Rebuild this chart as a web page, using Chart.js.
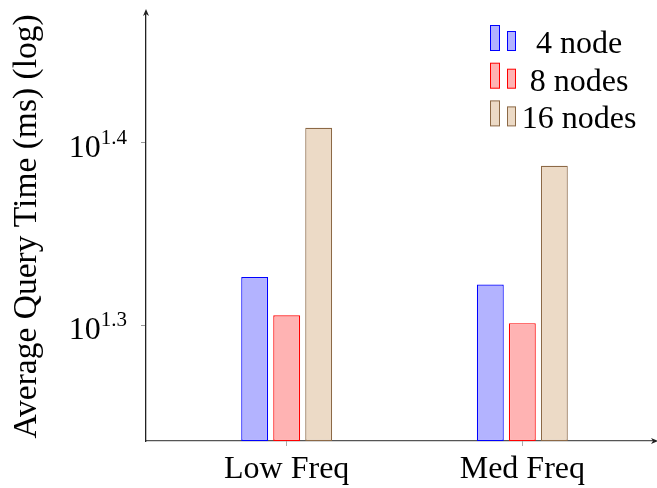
<!DOCTYPE html>
<html>
<head>
<meta charset="utf-8">
<script src="https://cdn.jsdelivr.net/npm/chart.js@4"></script>
<style>
  html, body { margin: 0; padding: 0; background: #fff; }
</style>
</head>
<body>
<canvas id="queryChart" width="657" height="488"></canvas>
<script>
// Chart data
var categories = ['Low Freq', 'Med Freq'];
var seriesNames = ['4 node', '8 nodes', '16 nodes'];
var fourNode = [21.2, 21.0];
var eightNodes = [20.2, 20.0];
var sixteenNodes = [25.6, 24.4];

// y axis: powers of ten shown as ticks, and axis range (exponents)
var yTickExponents = [1.3, 1.4];
var yMinExp = 1.2364;
var yMaxExp = 1.4717;

var serifFont = "'Liberation Serif', 'Times New Roman', serif";

// turn a series into {x, y} points for the linear x axis
function toPoints(values) {
    return values.map(function (v, i) {
        return { x: i, y: v };
    });
}

// Draws arrow heads, the 10^x tick labels and the two-bar legend
var axisDecor = {
    id: 'axisDecor',
    afterDraw: function (chart) {
        var ctx = chart.ctx;
        var area = chart.chartArea;
        var yScale = chart.scales.y;
        ctx.save();

        // arrow heads on the axes
        ctx.fillStyle = '#222';
        ctx.beginPath();
        ctx.moveTo(area.left, area.top - 3);
        ctx.lineTo(area.left - 3, area.top + 4);
        ctx.lineTo(area.left, area.top + 2);
        ctx.lineTo(area.left + 3, area.top + 4);
        ctx.closePath();
        ctx.fill();
        ctx.beginPath();
        ctx.moveTo(area.right + 3, area.bottom);
        ctx.lineTo(area.right - 4, area.bottom - 3);
        ctx.lineTo(area.right - 2, area.bottom);
        ctx.lineTo(area.right - 4, area.bottom + 3);
        ctx.closePath();
        ctx.fill();

        // y tick labels like 10^1.3
        ctx.fillStyle = '#000';
        ctx.textBaseline = 'alphabetic';
        yScale.ticks.forEach(function (t) {
            var py = yScale.getPixelForValue(t.value);
            var exp = Math.log10(t.value).toFixed(1);
            ctx.font = '21px ' + serifFont;
            var ew = ctx.measureText(exp).width + 1;
            ctx.textAlign = 'left';
            ctx.fillText(exp, 128 - ew, py + 1);
            ctx.font = '32px ' + serifFont;
            ctx.textAlign = 'right';
            ctx.fillText('10', 128 - ew, py + 14);
        });

        // legend with two small bars per entry
        chart.data.datasets.forEach(function (ds, i) {
            var top = 25.5 + i * 37.7;
            ctx.lineWidth = 1;
            ctx.fillStyle = ds.backgroundColor;
            ctx.strokeStyle = ds.borderColor;
            ctx.fillRect(490.5, top, 9, 25);
            ctx.strokeRect(490.5, top, 9, 25);
            ctx.fillRect(507.5, top + 6, 8, 19);
            ctx.strokeRect(507.5, top + 6, 8, 19);
            ctx.fillStyle = '#000';
            ctx.font = '32px ' + serifFont;
            ctx.textAlign = 'center';
            ctx.fillText(ds.label, 579, top + 27.5);
        });
        ctx.restore();
    }
};

var ctx = document.getElementById('queryChart').getContext('2d');
var queryChart = new Chart(ctx, {
    type: 'bar',
    data: {
        datasets: [{
            label: seriesNames[0],
            data: toPoints(fourNode),
            backgroundColor: 'rgb(179, 179, 255)',
            borderColor: 'rgb(0, 0, 255)',
            borderWidth: 1.2,
            borderSkipped: false
        }, {
            label: seriesNames[1],
            data: toPoints(eightNodes),
            backgroundColor: 'rgb(255, 179, 179)',
            borderColor: 'rgb(255, 0, 0)',
            borderWidth: 1.2,
            borderSkipped: false
        }, {
            label: seriesNames[2],
            data: toPoints(sixteenNodes),
            backgroundColor: 'rgb(236, 218, 198)',
            borderColor: 'rgb(140, 105, 70)',
            borderWidth: 1.2,
            borderSkipped: false
        }]
    },
    options: {
        responsive: false,
        animation: false,
        categoryPercentage: 0.4075,
        barPercentage: 0.84,
        layout: { padding: { top: 12, right: 2, left: 0, bottom: 0 } },
        plugins: {
            legend: { display: false },
            tooltip: { enabled: false }
        },
        scales: {
            x: {
                type: 'linear',
                min: -0.597,
                max: 1.563,
                bounds: 'data',
                offset: false,
                afterBuildTicks: function (scale) {
                    scale.ticks = categories.map(function (c, i) {
                        return { value: i };
                    });
                },
                afterFit: function (scale) {
                    scale.height = 47;
                },
                grid: { drawOnChartArea: false, offset: false, tickLength: 5, color: '#aaa' },
                border: { color: '#555', width: 1.3 },
                ticks: {
                    callback: function (value, index) {
                        return categories[index];
                    },
                    autoSkip: false,
                    maxRotation: 0,
                    padding: 4,
                    color: '#000',
                    font: { family: serifFont, size: 32 }
                }
            },
            y: {
                type: 'logarithmic',
                min: Math.pow(10, yMinExp),
                max: Math.pow(10, yMaxExp),
                bounds: 'data',
                beginAtZero: false,
                afterBuildTicks: function (scale) {
                    scale.ticks = yTickExponents.map(function (e) {
                        return { value: Math.pow(10, e) };
                    });
                },
                afterFit: function (scale) {
                    scale.width = 146;
                },
                grid: { drawOnChartArea: false, tickLength: 5, color: '#999' },
                border: { color: '#222', width: 1.3 },
                ticks: { display: false },
                title: {
                    display: true,
                    text: 'Average Query Time (ms) (log)',
                    color: '#000',
                    font: { family: serifFont, size: 33.5 },
                    padding: { top: 7, bottom: 0 }
                }
            }
        }
    },
    plugins: [axisDecor]
});
</script>
</body>
</html>
